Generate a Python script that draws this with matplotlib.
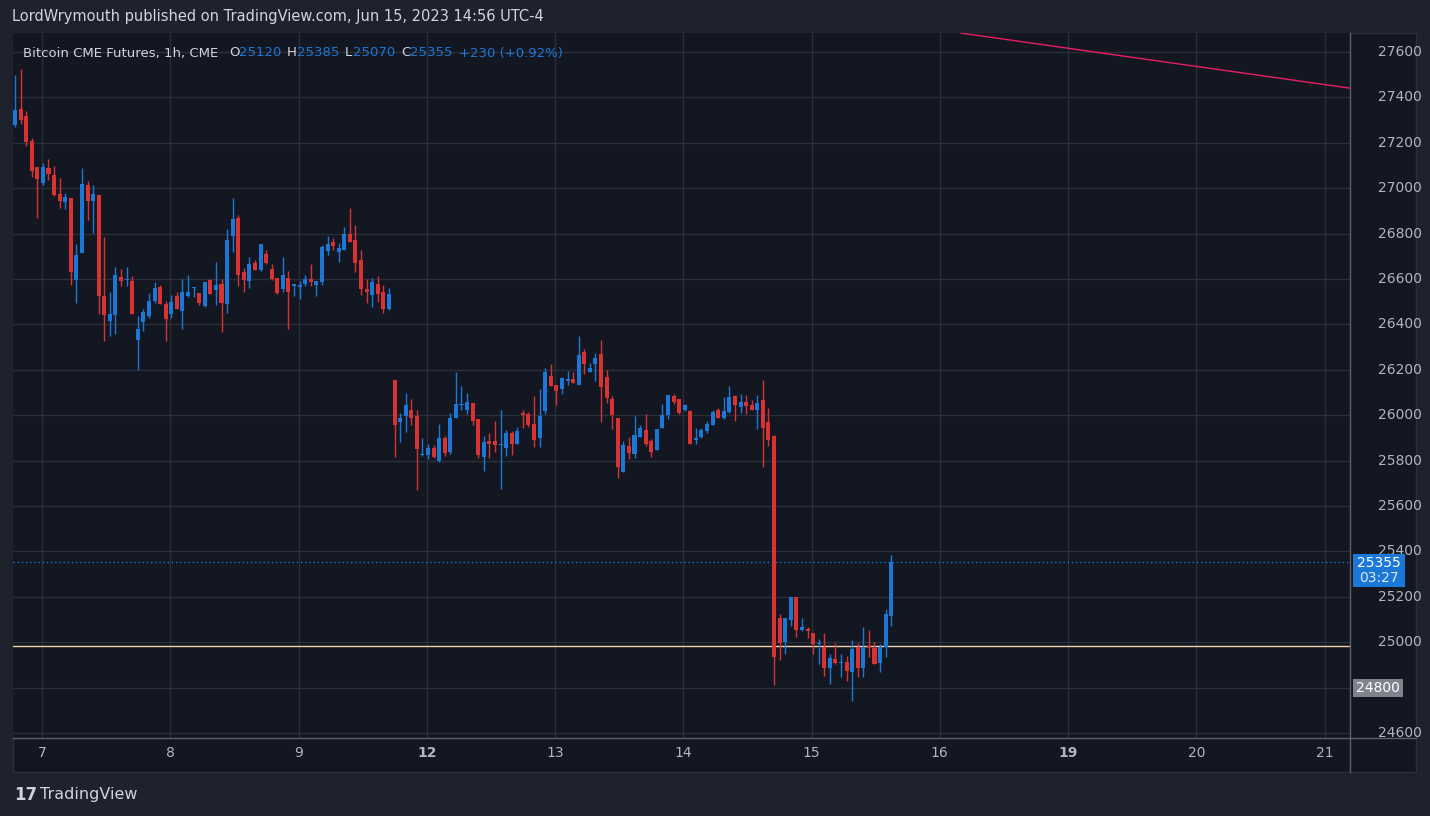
import matplotlib
matplotlib.use("Agg")
import matplotlib.pyplot as plt
import numpy as np

# OHLC, hourly candles (Jun 6 - Jun 15, 2023)
opens = [27280,27350,27320,27210,27095,27025,27090,27060,26975,26940,26955,26595,26715,27015,26945,26970,26525,26415,26440,26610,
         26595,26590,26330,26410,26435,26505,26565,26490,26445,26525,26460,26525,26560,26540,26480,26595,26550,26580,26490,26790,
         26870,26630,26590,26670,26640,26710,26645,26605,26555,26605,26570,26565,26580,26600,26575,26585,26725,26765,26720,26730,
         26800,26770,26685,26555,26530,26580,26545,26470,26155,25970,25995,26025,25995,25825,25825,25855,25800,25900,25840,25990,
         26045,26025,26055,25985,25815,25885,25885,25870,25855,25920,25875,26010,26005,25960,25900,26020,26175,26135,26115,26150,
         26160,26135,26280,26190,26225,26270,26170,26070,25990,25750,25865,25830,25905,25935,25885,25845,25945,26000,26085,26070,
         26025,26020,25890,25905,25930,25955,26025,25990,26015,26085,26035,26060,26045,26025,26065,25970,25910,25105,25000,25100,
         25200,25055,25060,25040,24990,24980,24885,24925,24910,24915,24870,24980,24885,24985,24975,24910,24980,25115]
highs = [27500,27525,27340,27220,27095,27110,27130,27100,27045,26980,26955,26755,27090,27030,27015,26970,26785,26545,26655,26645,
         26655,26615,26435,26470,26540,26585,26575,26505,26530,26545,26600,26620,26565,26540,26585,26600,26675,26600,26820,26955,
         26880,26650,26695,26685,26755,26730,26665,26605,26695,26635,26580,26590,26620,26665,26590,26750,26790,26780,26760,26830,
         26915,26840,26730,26600,26605,26615,26575,26560,26155,26010,26100,26070,26025,25900,25875,25870,25960,25910,26010,26190,
         26130,26100,26055,25985,25910,25920,25975,26025,25935,25930,25950,26025,26015,26085,26115,26210,26225,26135,26170,26195,
         26190,26350,26290,26230,26275,26330,26200,26085,25990,25885,25905,25995,25955,26005,25895,25940,26050,26090,26095,26070,
         26050,26025,25945,25945,25975,26025,26030,26080,26130,26090,26095,26090,26065,26090,26155,26030,25915,25125,25105,25200,
         25200,25105,25065,25040,25015,25040,24950,24995,24950,24940,25010,24995,25065,25055,25000,24990,25145,25385]
lows = [27270,27285,27185,27050,26870,27015,27035,26965,26915,26910,26575,26495,26715,26860,26805,26445,26325,26350,26360,26570,
        26570,26445,26200,26370,26430,26495,26490,26325,26430,26470,26380,26520,26520,26485,26475,26535,26485,26365,26450,26720,
        26570,26545,26560,26640,26635,26665,26595,26535,26545,26380,26525,26510,26570,26570,26525,26575,26705,26730,26675,26730,
        26765,26630,26530,26495,26475,26500,26450,26465,25815,25880,25925,25955,25670,25820,25805,25810,25795,25820,25830,25990,
        26025,26005,25955,25810,25755,25810,25840,25675,25820,25825,25875,25945,25950,25860,25860,26005,26130,26045,26095,26135,
        26140,26135,26180,26190,26150,25970,26055,25940,25725,25750,25805,25810,25905,25865,25815,25845,25945,25985,26050,26005,
        26020,25875,25875,25900,25920,25955,25990,25985,26010,25975,26010,26005,26025,25940,25770,25865,24810,24920,24950,25070,
        25025,25050,25020,24950,24905,24850,24815,24905,24845,24830,24740,24845,24845,24935,24905,24870,24935,25070]
closes = [27345,27300,27205,27075,27040,27095,27065,26970,26945,26960,26630,26705,27020,26945,26975,26525,26440,26445,26620,26590,
          26600,26445,26380,26455,26505,26560,26490,26425,26500,26470,26545,26545,26565,26495,26585,26535,26575,26495,26770,26865,
          26620,26595,26665,26640,26755,26670,26600,26540,26620,26545,26580,26575,26600,26585,26590,26740,26755,26745,26735,26800,
          26765,26670,26555,26545,26585,26535,26470,26535,25955,25990,26045,25990,25850,25830,25855,25815,25900,25835,25990,26050,
          26050,26060,25975,25825,25880,25875,25870,25875,25920,25875,25930,26000,25955,25890,25995,26190,26130,26105,26165,26160,
          26140,26265,26225,26210,26250,26125,26075,26000,25770,25870,25835,25915,25945,25875,25840,25940,26000,26090,26060,26010,
          26045,25875,25900,25935,25960,26015,25990,26020,26080,26045,26060,26040,26025,26055,25945,25890,24935,24995,25105,25200,
          25055,25065,25050,24990,24995,24885,24930,24910,24915,24875,24970,24885,24980,24975,24905,24980,25125,25355]

day_labels = ["7", "8", "9", "12", "13", "14", "15", "16", "19", "20", "21"]
bold_days = ["12", "19"]
price_ticks = [24600, 24800, 25000, 25200, 25400, 25600, 25800, 26000, 26200, 26400,
               26600, 26800, 27000, 27200, 27400, 27600]
last_price = 25355
hline_price = 24985
marked_price = 24800
trend_x = [169.4, 239.2]
trend_y = [27684, 27441]

W, H = 1430, 816
BG = "#1e222d"; PANE = "#131722"; GRID = "#2a2e39"
UP = "#1c78d6"; DOWN = "#d83232"; TXT = "#b2b5be"

fig = plt.figure(figsize=(W/100, H/100), dpi=100, facecolor=BG)
fig.patches.append(plt.Rectangle((13/W, (H-772)/H), (1416-13)/W, (772-33)/H,
                                 transform=fig.transFigure, facecolor=PANE, edgecolor=GRID, lw=1, zorder=-5))
ax = fig.add_axes([13/W, (H-738)/H, (1350-13)/W, (738-33)/H], zorder=2)
ax.set_facecolor(PANE)
xmin, xmax = -0.36, 239.2
ymin, ymax = 24578, 27684
ax.set_xlim(xmin, xmax); ax.set_ylim(ymin, ymax)
for s in ax.spines.values():
    s.set_visible(False)
ax.tick_params(left=False, bottom=False, labelleft=False, labelbottom=False)

day_pos = [4.84 + 22.98*k for k in range(len(day_labels))]
for p in price_ticks:
    ax.axhline(p, color=GRID, lw=1, zorder=0)
for d in day_pos:
    ax.axvline(d, color=GRID, lw=1, zorder=0)

o = np.array(opens); h = np.array(highs); l = np.array(lows); c = np.array(closes)
xs = np.arange(len(o))
cols = np.where(c >= o, UP, DOWN)
ax.vlines(xs, l, h, colors=cols, lw=1, zorder=2)
bottoms = np.minimum(o, c)
heights = np.maximum(np.abs(c - o), 4)
ax.bar(xs, heights, bottom=bottoms, width=0.72, color=cols, zorder=3, linewidth=0)

ax.axhline(last_price, color=UP, lw=1, ls=(0, (1, 2)), zorder=1)
ax.axhline(hline_price, color="#f0d2b0", lw=1, zorder=1)
ax.plot(trend_x, trend_y, color="#e91e63", lw=1, zorder=1)

fig.add_artist(plt.Line2D([1350/W, 1350/W], [(H-772)/H, (H-33)/H], color="#5d606b", lw=1, zorder=3))
fig.add_artist(plt.Line2D([13/W, 1416/W], [(H-738)/H, (H-738)/H], color="#5d606b", lw=1, zorder=3))

def py(p):
    return (H - 738 + (p - ymin) / (ymax - ymin) * (738 - 33)) / H

for p in price_ticks:
    if p == marked_price:
        continue
    fig.text(1378/W, py(p), str(p), color=TXT, fontsize=10, ha="left", va="center", zorder=3)

fig.patches.append(plt.Rectangle((1353/W, py(last_price) - 25/H), 52/W, 33/H, transform=fig.transFigure,
                                 facecolor=UP, edgecolor="none", zorder=5))
fig.text(1379/W, py(last_price) - 1/H, str(last_price), color="white", fontsize=10, ha="center", va="center", zorder=6)
fig.text(1379/W, py(last_price) - 16/H, "03:27", color="#d6e6f7", fontsize=10, ha="center", va="center", zorder=6)
fig.patches.append(plt.Rectangle((1353/W, py(marked_price) - 9/H), 50/W, 18/H, transform=fig.transFigure,
                                 facecolor="#80838d", edgecolor="none", zorder=5))
fig.text(1378/W, py(marked_price), str(marked_price), color="white", fontsize=10, ha="center", va="center", zorder=6)

for d, lab in zip(day_pos, day_labels):
    xf = (13 + (d - xmin) / (xmax - xmin) * (1350 - 13)) / W
    fig.text(xf, (H-753)/H, lab, color=TXT, fontsize=10, ha="center", va="center",
             fontweight="bold" if lab in bold_days else "normal", zorder=3)

fig.text(12/W, (H-17)/H, "LordWrymouth published on TradingView.com, Jun 15, 2023 14:56 UTC-4",
         color="#d1d4dc", fontsize=10.5, va="center")
yl = (H-53)/H
segs = [(23, "Bitcoin CME Futures, 1h, CME", "#d1d4dc"), (229, "O", "#d1d4dc"), (239, "25120", UP),
        (287, "H", "#d1d4dc"), (297, "25385", UP), (345, "L", "#d1d4dc"), (353, "25070", UP),
        (401, "C", "#d1d4dc"), (410, "25355", UP), (459, "+230 (+0.92%)", UP)]
for x, t, col in segs:
    fig.text(x/W, yl, t, color=col, fontsize=9.5, va="center", zorder=4)

fig.text(14/W, (H-795)/H, "17", color="#d1d4dc", fontsize=12, fontweight="bold", va="center")
fig.text(40/W, (H-795)/H, "TradingView", color="#d1d4dc", fontsize=11.5, va="center")

fig.savefig("out.png", dpi=100, facecolor=BG)
